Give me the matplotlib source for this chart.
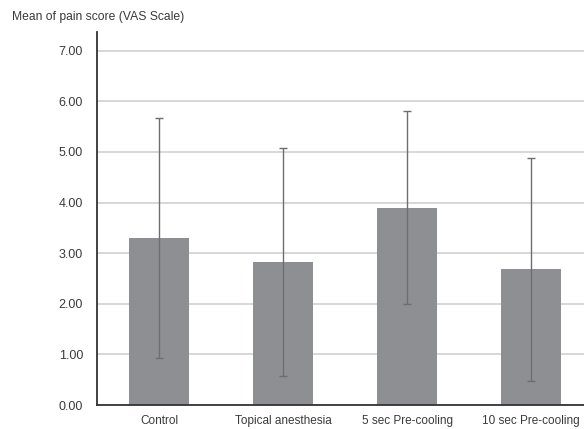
import matplotlib
matplotlib.use('Agg')
import matplotlib.pyplot as plt
import numpy as np

# data
groups = ['Control', 'Topical anesthesia', '5 sec Pre-cooling', '10 sec Pre-cooling']
means = [3.30, 2.82, 3.90, 2.68]
sds = [2.37, 2.25, 1.90, 2.20]
yticks = [0, 1, 2, 3, 4, 5, 6, 7]

plt.rcParams['font.family'] = ['Liberation Sans', 'DejaVu Sans']

fig = plt.figure(figsize=(5.84, 4.29), dpi=100)
ax = fig.add_axes([97/584, 1 - 405/429, 496/584, (405 - 32)/429])

x = np.arange(len(groups))
ax.bar(x, means, width=0.49, color='#8e8f93', zorder=2)
ax.errorbar(x, means, yerr=sds, fmt='none', ecolor='#6e6e70', elinewidth=1.0,
            capsize=3, capthick=1.0, zorder=3)

ax.set_xlim(-0.5, 3.5)
ax.set_ylim(0, 7.37)
ax.set_yticks(yticks)
ax.set_yticklabels(['%.2f' % v for v in yticks])
ax.set_xticks(x)
ax.set_xticklabels(groups)

ax.yaxis.grid(True, color='#d4d4d4', linewidth=1.3, zorder=0)
ax.set_axisbelow(True)
ax.tick_params(axis='both', length=0, labelcolor='#3a3a3a')
ax.tick_params(axis='y', pad=10, labelsize=9)
ax.tick_params(axis='x', pad=7, labelsize=8.5)

ax.spines['top'].set_visible(False)
ax.spines['right'].set_visible(False)
ax.spines['left'].set_color('#333333')
ax.spines['left'].set_linewidth(1.3)
ax.spines['bottom'].set_color('#333333')
ax.spines['bottom'].set_linewidth(1.3)

fig.text(12/584, 1 - 17/429, 'Mean of pain score (VAS Scale)', fontsize=8.7,
         color='#3a3a3a', va='center', ha='left')

fig.savefig('out.png', dpi=100)
